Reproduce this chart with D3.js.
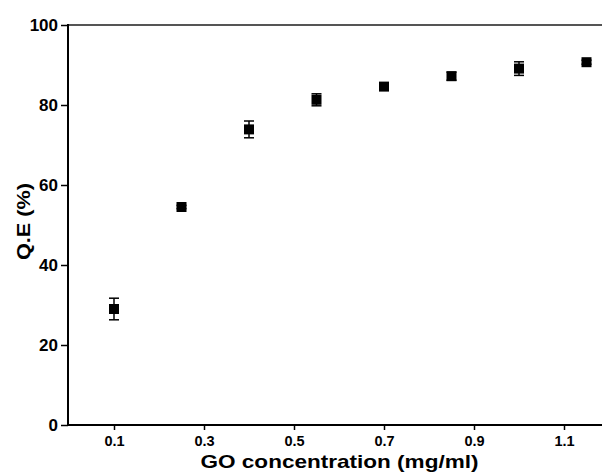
<!DOCTYPE html>
<html>
<head>
<meta charset="utf-8">
<script src="https://cdn.jsdelivr.net/npm/d3@7"></script>
<style>
  body { margin: 0; background: #fff; }
  svg { display: block; }
  text { font-family: "Liberation Sans", Arial, sans-serif; font-weight: bold; }
</style>
</head>
<body>
<div id="chart"></div>
<script>
// GO concentration (mg/ml)
var concentration = [0.1, 0.25, 0.4, 0.55, 0.7, 0.85, 1.0, 1.15];
// Q.E (%)
var qe = [29, 54.5, 73.9, 81.3, 84.6, 87.2, 89.1, 90.7];
var qeErr = [2.7, 0.4, 2.1, 1.5, 0.4, 1.0, 1.7, 0.5];
var xTicks = [0.1, 0.3, 0.5, 0.7, 0.9, 1.1];
var yTicks = [0, 20, 40, 60, 80, 100];

var width = 602, height = 476;
var margin = {top: 25, right: -7, bottom: 51, left: 68};

var data = concentration.map(function(c, i) {
  return {x: c, y: qe[i], err: qeErr[i]};
});

var svg = d3.select('#chart').append('svg')
    .attr('width', width)
    .attr('height', height);

var xScale = d3.scaleLinear()
  .domain([0, 1.2])
  .range([margin.left + 1, width - margin.right]);

var yScale = d3.scaleLinear()
  .domain([0, 100])
  .range([height - margin.bottom, margin.top]);

// top frame line
svg.append('line')
    .attr('x1', margin.left)
    .attr('x2', width)
    .attr('y1', yScale(100))
    .attr('y2', yScale(100))
    .attr('stroke', '#555')
    .attr('stroke-width', 2);

var yAxis = d3.axisLeft(yScale)
  .tickValues(yTicks)
  .tickSize(7)
  .tickSizeOuter(0)
  .tickPadding(3);

var xAxis = d3.axisBottom(xScale)
  .tickValues(xTicks)
  .tickFormat(d3.format('.1f'))
  .tickSize(5)
  .tickSizeOuter(0)
  .tickPadding(6);

var gy = svg.append('g')
    .attr('class', 'axis axis--y')
    .attr('transform', 'translate(' + margin.left + ',0)')
    .call(yAxis);

var gx = svg.append('g')
    .attr('class', 'axis axis--x')
    .attr('transform', 'translate(0,' + yScale(0) + ')')
    .call(xAxis);

// axis lines drawn by hand so they run to the edge
gy.select('.domain').remove();
gx.select('.domain').remove();
svg.append('line')
    .attr('x1', margin.left).attr('x2', margin.left)
    .attr('y1', yScale(100) - 1).attr('y2', yScale(0) + 1)
    .attr('stroke', '#000').attr('stroke-width', 2);
svg.append('line')
    .attr('x1', margin.left - 1).attr('x2', width)
    .attr('y1', yScale(0)).attr('y2', yScale(0))
    .attr('stroke', '#000').attr('stroke-width', 2);

gy.selectAll('.tick line').attr('stroke', '#000').attr('stroke-width', 1.5);
gx.selectAll('.tick line').attr('stroke', '#000').attr('stroke-width', 1.5);
gy.selectAll('.tick text')
    .attr('font-size', 17)
    .attr('font-family', '"Liberation Sans", Arial, sans-serif')
    .attr('font-weight', 'bold')
    .attr('fill', '#000');
gx.selectAll('.tick text')
    .attr('font-size', 14.5)
    .attr('font-family', '"Liberation Sans", Arial, sans-serif')
    .attr('font-weight', 'bold')
    .attr('fill', '#000');

// error bars
var capW = 5;
var bars = svg.append('g')
    .attr('class', 'errors')
  .selectAll('g')
    .data(data)
  .enter().append('g')
    .attr('stroke', '#000')
    .attr('stroke-width', 1.5);

bars.append('line')
    .attr('x1', function(d) { return xScale(d.x); })
    .attr('x2', function(d) { return xScale(d.x); })
    .attr('y1', function(d) { return yScale(d.y + d.err); })
    .attr('y2', function(d) { return yScale(d.y - d.err); });
bars.append('line')
    .attr('x1', function(d) { return xScale(d.x) - capW; })
    .attr('x2', function(d) { return xScale(d.x) + capW; })
    .attr('y1', function(d) { return yScale(d.y + d.err); })
    .attr('y2', function(d) { return yScale(d.y + d.err); });
bars.append('line')
    .attr('x1', function(d) { return xScale(d.x) - capW; })
    .attr('x2', function(d) { return xScale(d.x) + capW; })
    .attr('y1', function(d) { return yScale(d.y - d.err); })
    .attr('y2', function(d) { return yScale(d.y - d.err); });

// square markers
var sq = 10;
svg.append('g')
    .attr('class', 'dots')
  .selectAll('rect')
    .data(data)
  .enter().append('rect')
    .attr('x', function(d) { return xScale(d.x) - sq / 2; })
    .attr('y', function(d) { return yScale(d.y) - sq / 2; })
    .attr('width', sq)
    .attr('height', sq)
    .attr('fill', '#000');

// axis titles (source text is a bit stretched sideways)
svg.append('text')
    .attr('x', 339.5)
    .attr('y', 468)
    .attr('text-anchor', 'middle')
    .attr('font-size', 19)
    .attr('textLength', 278)
    .attr('lengthAdjust', 'spacingAndGlyphs')
    .attr('fill', '#000')
    .text('GO concentration (mg/ml)');

svg.append('text')
    .attr('transform', 'translate(30,221.5) rotate(-90)')
    .attr('text-anchor', 'middle')
    .attr('font-size', 19)
    .attr('textLength', 77)
    .attr('lengthAdjust', 'spacingAndGlyphs')
    .attr('fill', '#000')
    .text('Q.E (%)');
</script>
</body>
</html>
